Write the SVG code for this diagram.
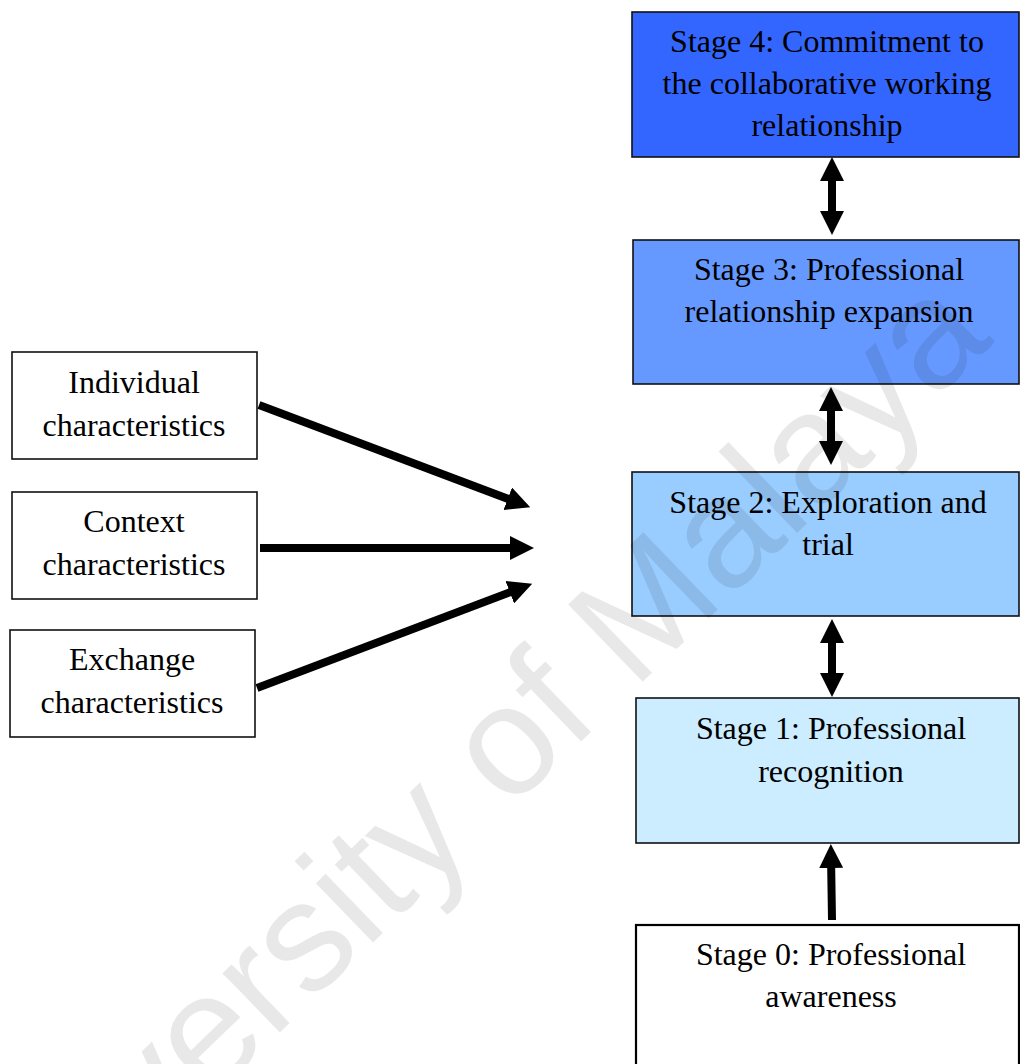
<svg xmlns="http://www.w3.org/2000/svg" width="1020" height="1064" viewBox="0 0 1020 1064">
  <style>
    .box { stroke: #111; stroke-width: 1.6; }
    .lbl { font-family: "Liberation Serif", "Times New Roman", serif; font-size: 32px; fill: #000; text-anchor: middle; }
    .conn { stroke: #000; stroke-width: 8; fill: none; }
    .wm { font-family: "Liberation Sans", Arial, sans-serif; font-size: 156px; fill: #000; fill-opacity: 0.09; }
  </style>
  <defs>
    <marker id="head" markerUnits="userSpaceOnUse" markerWidth="24" markerHeight="24" refX="12" refY="12" orient="auto-start-reverse" viewBox="0 0 24 24">
      <path d="M0,0 L24,12 L0,24 z" fill="#000"/>
    </marker>
  </defs>

  <rect width="1020" height="1064" fill="#fff"/>

  <!-- influencing characteristics -->
  <g id="individual">
    <rect class="box" x="12" y="352" width="245" height="107" fill="#fff"/>
    <text class="lbl" x="134" y="393">Individual</text>
    <text class="lbl" x="134" y="436">characteristics</text>
  </g>
  <g id="context">
    <rect class="box" x="12" y="492" width="245" height="107" fill="#fff"/>
    <text class="lbl" x="134" y="532">Context</text>
    <text class="lbl" x="134" y="575">characteristics</text>
  </g>
  <g id="exchange">
    <rect class="box" x="10" y="630" width="245" height="107" fill="#fff"/>
    <text class="lbl" x="132" y="670">Exchange</text>
    <text class="lbl" x="132" y="713">characteristics</text>
  </g>

  <!-- development stages -->
  <g id="stage4">
    <rect class="box" x="632" y="12" width="387" height="145" fill="#3366FF"/>
    <text class="lbl" x="827" y="52">Stage 4: Commitment to</text>
    <text class="lbl" x="827" y="94">the collaborative working</text>
    <text class="lbl" x="827" y="136">relationship</text>
  </g>
  <g id="stage3">
    <rect class="box" x="633" y="240" width="386" height="144" fill="#6699FF"/>
    <text class="lbl" x="829" y="280">Stage 3: Professional</text>
    <text class="lbl" x="829" y="322">relationship expansion</text>
  </g>
  <g id="stage2">
    <rect class="box" x="632" y="472" width="387" height="144" fill="#99CCFF"/>
    <text class="lbl" x="828" y="513">Stage 2: Exploration and</text>
    <text class="lbl" x="828" y="555">trial</text>
  </g>
  <g id="stage1">
    <rect class="box" x="636" y="698" width="383" height="145" fill="#CCECFF"/>
    <text class="lbl" x="831" y="739">Stage 1: Professional</text>
    <text class="lbl" x="831" y="782">recognition</text>
  </g>
  <g id="stage0">
    <rect x="636" y="925" width="383" height="160" fill="#fff" stroke="#000" stroke-width="2.2"/>
    <text class="lbl" x="831" y="965">Stage 0: Professional</text>
    <text class="lbl" x="831" y="1007">awareness</text>
  </g>

  <!-- connectors -->
  <g id="connectors">
    <line class="conn" x1="259" y1="405" x2="519" y2="503" marker-end="url(#head)"/>
    <line class="conn" x1="260" y1="548" x2="522" y2="548" marker-end="url(#head)"/>
    <line class="conn" x1="257" y1="688" x2="521" y2="588" marker-end="url(#head)"/>

    <line class="conn" x1="832" y1="169" x2="832" y2="223" marker-start="url(#head)" marker-end="url(#head)"/>
    <line class="conn" x1="831" y1="399" x2="831" y2="453" marker-start="url(#head)" marker-end="url(#head)"/>
    <line class="conn" x1="832" y1="631" x2="832" y2="685" marker-start="url(#head)" marker-end="url(#head)"/>
    <line class="conn" x1="832" y1="920" x2="831" y2="856" marker-end="url(#head)"/>
  </g>

  <!-- repository watermark -->
  <text class="wm" x="-15" y="1317" transform="rotate(-44 -15 1317)">University of Malaya</text>
</svg>
